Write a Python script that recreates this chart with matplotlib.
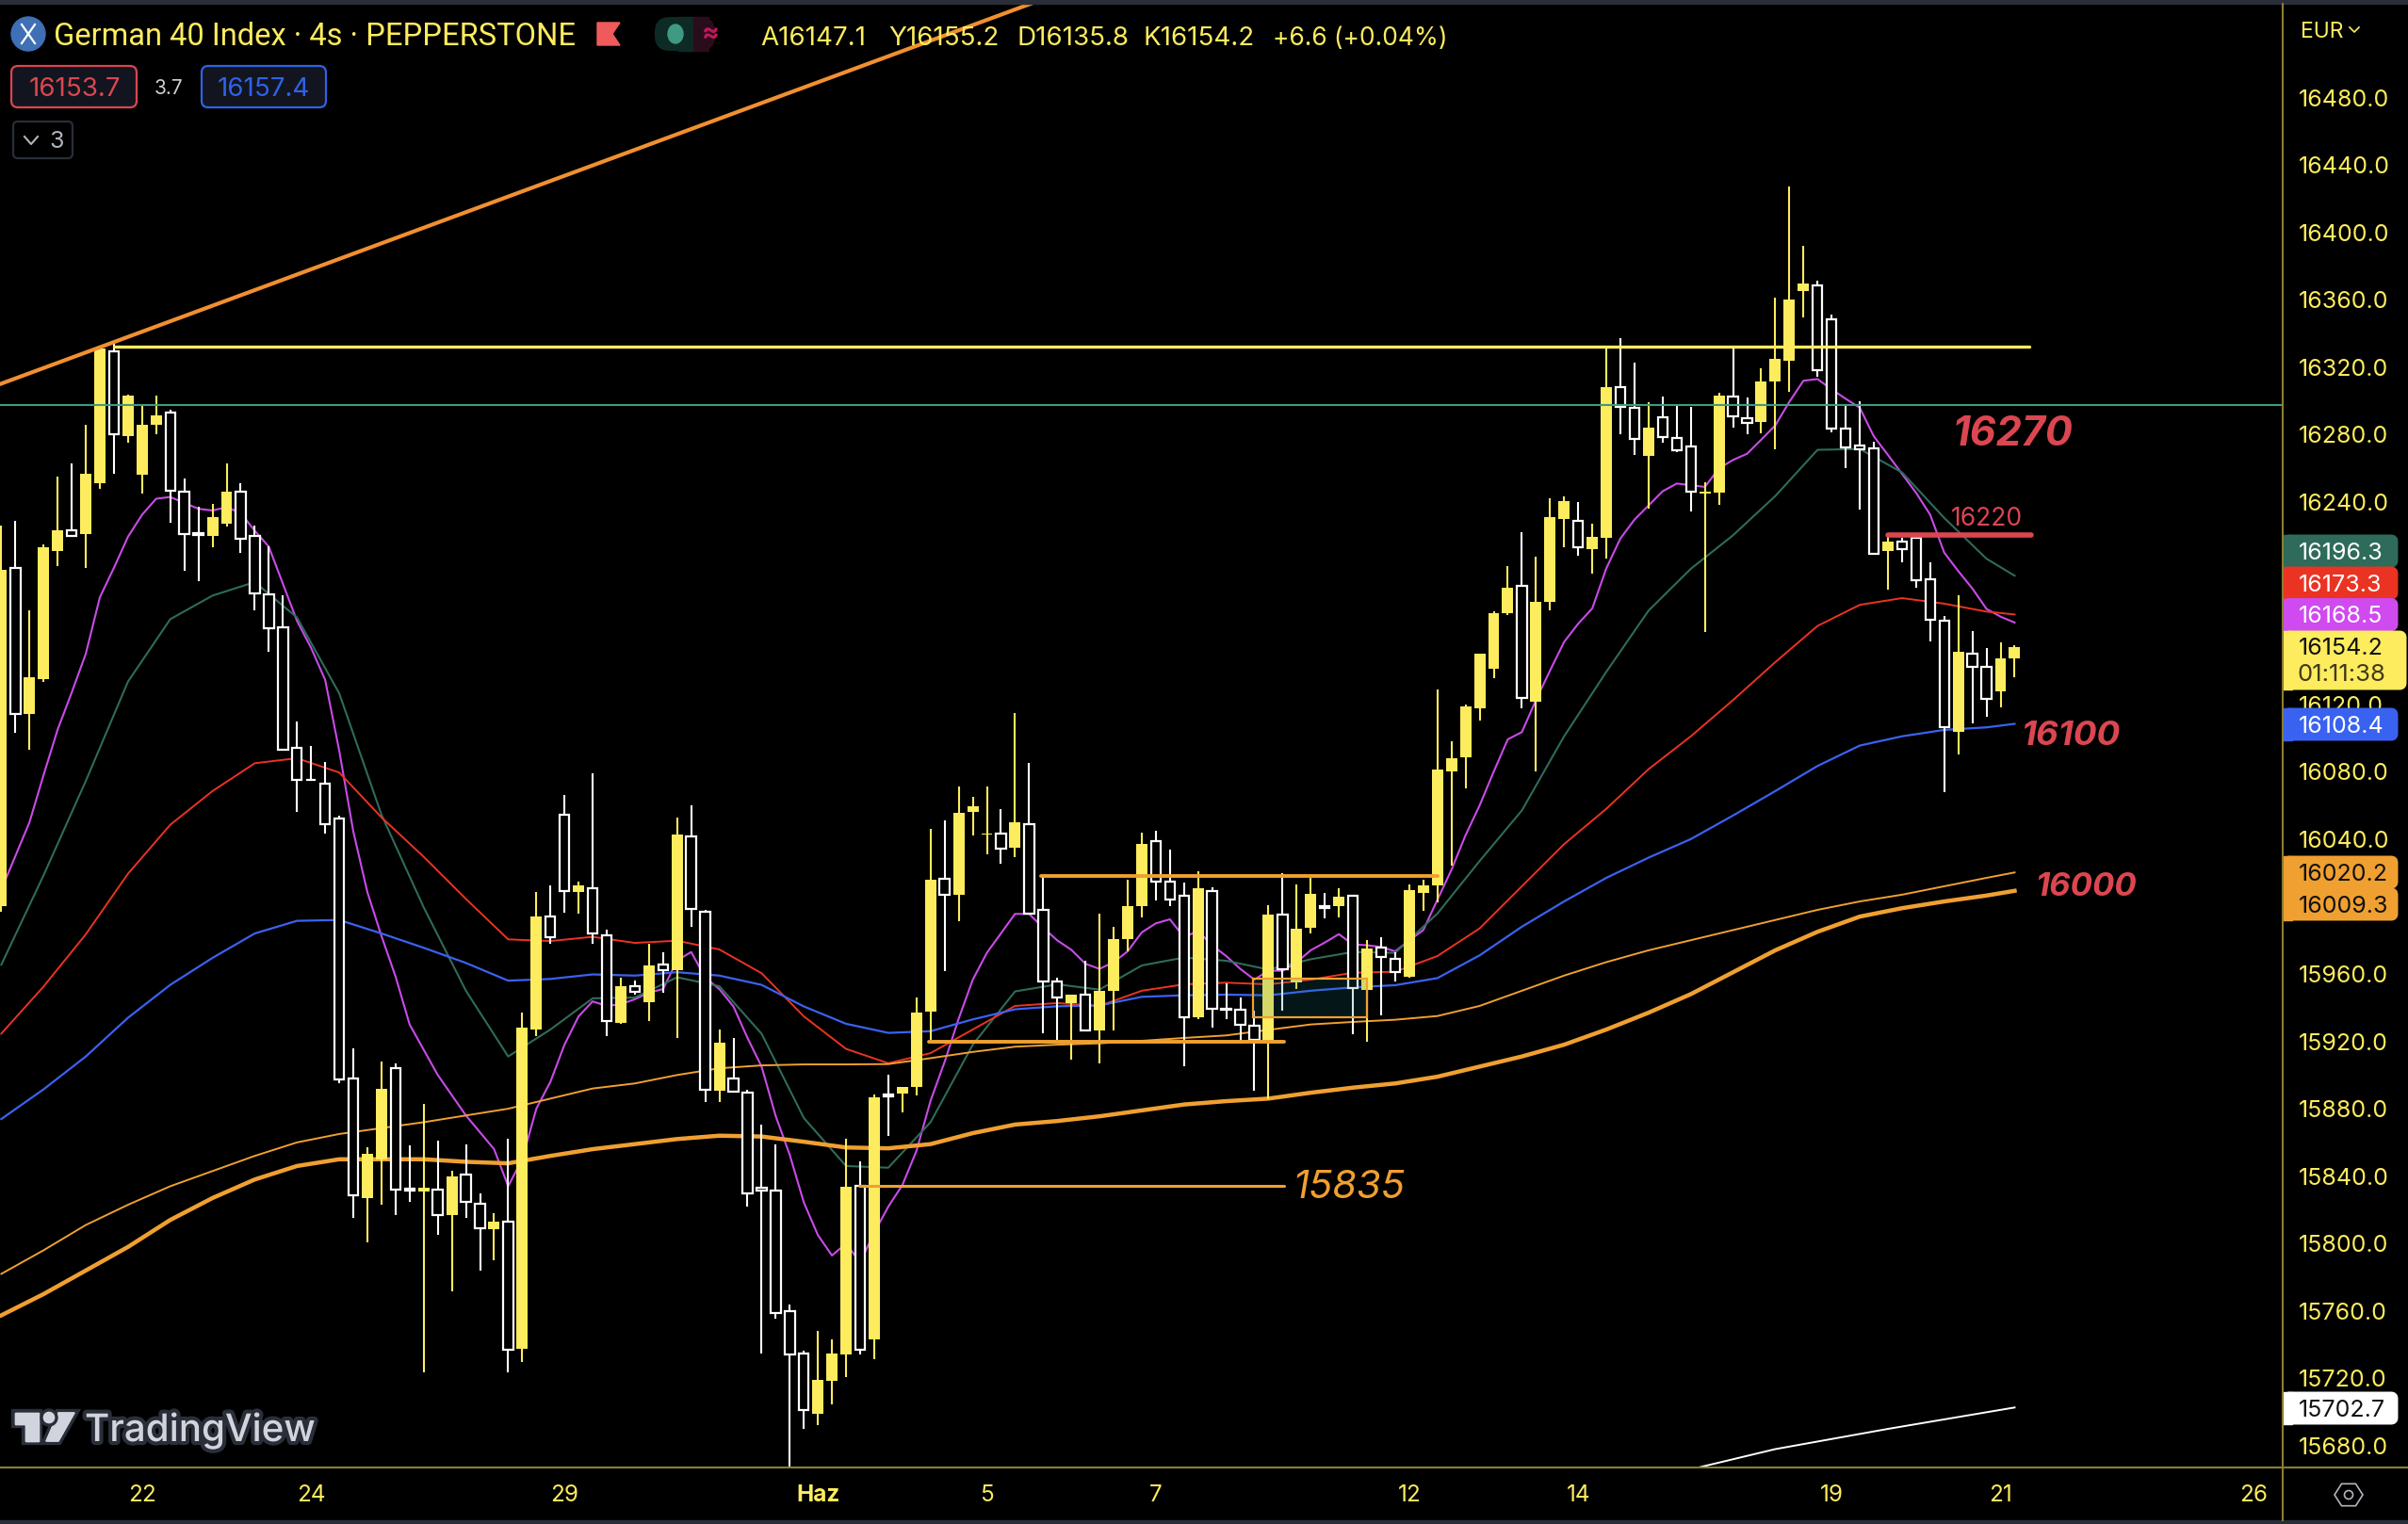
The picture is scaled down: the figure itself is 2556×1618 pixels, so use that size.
import numpy as np
import matplotlib
matplotlib.use("Agg")
import matplotlib.pyplot as plt
import matplotlib.patheffects as pe
from matplotlib.patches import Circle, Ellipse, FancyBboxPatch, Polygon, Rectangle

plt.rcParams["font.family"] = ["Inter", "DejaVu Sans"]

opens = [16000, 16201, 16114, 16135, 16211, 16223.5, 16221, 16251, 16329.6, 16279, 16256, 16286, 16293, 16246, 16221.6, 16220,
         16227, 16246, 16220, 16185, 16165.5, 16094, 16075.4, 16073, 16052, 15898, 15827, 15850, 15904, 15832.7, 15831, 15832,
         15817, 15841, 15823.7, 15808.6, 15813, 15737.5, 15927, 15994, 16054.6, 16008.4, 16011, 15983, 15931, 15953, 15943, 15965.6,
         15962.5, 16041.5, 15997, 15890.4, 15898, 15889.4, 15833, 15831.7, 15760, 15735, 15699, 15718.5, 15734, 15834, 15743.3, 15888.3,
         15889, 15893, 15937.6, 16016.4, 16007, 16056, 16042.6, 16043.3, 16034.9, 16049, 15998, 15955.7, 15942.7, 15947.9, 15926.5, 15950,
         15980.7, 16000, 16039, 16014.8, 16006.6, 15934.3, 16009.4, 15939.5, 15939, 15929.4, 15920, 15995.4, 15955, 15987.4, 16000, 16000,
         16006.5, 15950.7, 15975.6, 15969, 15958.5, 16008.2, 16012.5, 16080, 16088.6, 16117.6, 16141, 16174, 16190.5, 16121.6, 16180.8, 16230,
         16228.7, 16212, 16218.8, 16308.4, 16296, 16267.4, 16290.5, 16278, 16273.2, 16245, 16245.8, 16302.8, 16290, 16287.6, 16311.6, 16323.9,
         16365.3, 16368.8, 16348.7, 16283.7, 16273.8, 16271.6, 16211, 16216.6, 16219, 16194.2, 16169.8, 16103.9, 16150, 16142.3, 16127.4, 16147.1]
highs = [16226, 16229, 16176, 16215, 16255, 16263, 16286, 16333, 16334, 16304, 16297, 16303, 16295, 16254, 16237, 16239,
         16263, 16251, 16226, 16213.5, 16184.5, 16110, 16095, 16086, 16054, 15915.6, 15857, 15908, 15907, 15858, 15883, 15861,
         15843, 15859, 15830, 15818, 15862, 15937, 16008.5, 16012.5, 16066, 16015, 16079, 15986, 15958, 15956, 15978, 15973,
         16053, 16060, 15998, 15927, 15922, 15891, 15870.6, 15858.7, 15763.8, 15736.4, 15748, 15743, 15862, 15849, 15888.6, 15900,
         15893, 15945.8, 16046, 16051, 16071, 16065, 16071, 16058, 16114.6, 16085, 16018, 15958, 15947.7, 15967.8, 15996, 15988,
         16015.9, 16043.8, 16045, 16033.6, 16014, 16021, 16011.6, 15954.4, 15946, 15938, 16000.8, 16020, 16013, 16017, 16007.9, 16010.8,
         16006.5, 15980, 15981.6, 15973, 16013, 16016, 16128.6, 16098, 16120, 16150, 16175, 16202, 16222, 16207.6, 16242.3, 16243.4,
         16240, 16227, 16331.5, 16337, 16322.8, 16299.3, 16302.7, 16297, 16296.5, 16251.8, 16304.9, 16331, 16302, 16319.4, 16361.4, 16427.3,
         16392, 16371.4, 16351.3, 16297.7, 16300, 16275.9, 16220.4, 16218.5, 16221, 16204.5, 16172.4, 16184.5, 16163.5, 16153.4, 16156.8, 16155.2]
lows = [15997, 16103, 16093, 16133, 16202, 16220, 16201, 16248, 16257, 16275, 16245, 16280, 16228, 16199, 16193, 16213,
        16225.5, 16210, 16176, 16151, 16093, 16056, 16075, 16043, 15895.4, 15815, 15800.6, 15823, 15817, 15825, 15723.6, 15805,
        15771.6, 15815, 15784, 15790, 15723.6, 15729.6, 15923, 15978, 15996.5, 15996, 15977.6, 15923, 15930.6, 15947.6, 15932, 15949,
        15921.7, 15988, 15884, 15883.7, 15890, 15822, 15735, 15755.5, 15660, 15690.2, 15692.4, 15704.5, 15721, 15734, 15731.6, 15863.7,
        15877.6, 15888, 15920.7, 15961.5, 15991.5, 16042, 16031, 16025.6, 16029.3, 15995.8, 15925, 15921, 15909, 15926.5, 15906.9, 15926.5,
        15973.4, 15993.5, 16003.6, 16000.4, 15905.4, 15933, 15928.3, 15933, 15918.8, 15890.5, 15885.8, 15938.4, 15951, 15984, 15993, 15993.5,
        15924.4, 15920, 15935.6, 15955.7, 15958, 15997.6, 16002.6, 16024, 16070.3, 16110.4, 16135.5, 16173, 16117.8, 16080.2, 16175.8, 16213.2,
        16208, 16197.6, 16206.5, 16280.3, 16268, 16236, 16275.3, 16269.7, 16234.5, 16163, 16238.4, 16284.2, 16280.3, 16280.9, 16271.2, 16305.5,
        16349.6, 16314.4, 16281.5, 16260.4, 16235.8, 16209.2, 16188.1, 16204.5, 16189, 16157.5, 16067.6, 16090.5, 16108.4, 16112.3, 16118.4, 16135.8]
closes = [16200, 16114, 16136, 16213, 16223, 16220, 16257, 16331, 16280, 16303, 16286, 16291.5, 16247, 16221, 16220.3, 16231,
          16246, 16218.4, 16186, 16165, 16093, 16075, 16075, 16049, 15897.5, 15828.5, 15853, 15892, 15832, 15831.7, 15833, 15817,
          15840, 15824.5, 15809, 15813, 15737, 15928, 15994, 15982, 16009, 16012.5, 15984, 15932, 15953, 15949.6, 15965, 15962,
          16042.8, 15998.4, 15891, 15919, 15890, 15830, 15831.3, 15759, 15734, 15701, 15719, 15735, 15833.7, 15736.8, 15887, 15887.3,
          15893, 15937.3, 16016, 16007, 16055.6, 16059.7, 16043.3, 16034.3, 16049.8, 15995.8, 15955.3, 15946, 15947.7, 15926.5, 15950, 15980.7,
          16000, 16037, 16014.6, 16004, 15934.3, 16010.8, 15939.3, 15939, 15929.6, 15921, 15995, 15962.6, 15986.8, 16007.3, 15999, 16005.6,
          15951.4, 15975, 15969.9, 15961.3, 16009.7, 16012.5, 16081, 16088, 16118.8, 16150, 16174, 16189, 16124, 16180.8, 16231, 16240.6,
          16213, 16219.4, 16308, 16296.5, 16277.3, 16284.2, 16278.8, 16270.6, 16246, 16246, 16303.2, 16290.7, 16287, 16311.6, 16325, 16360.3,
          16369.8, 16318.2, 16283.5, 16272.7, 16271.4, 16209.2, 16216.6, 16212, 16193.7, 16170.2, 16106.5, 16151, 16142.3, 16123.3, 16147.3, 16154.2]

ma_purple = [16010, 16030, 16050, 16078, 16105, 16127, 16150, 16183.5, 16201, 16219.5,
             16232.5, 16242, 16243, 16239.5, 16236, 16235, 16237, 16233.5, 16223, 16213.5,
             16191.5, 16169.5, 16153.5, 16134.5, 16092.5, 16044.5, 16008.5, 15982.5, 15958.5, 15930,
             15915, 15900, 15888, 15876, 15866, 15856, 15834, 15850, 15880, 15896,
             15918, 15934.8, 15943.7, 15941, 15942, 15945, 15948.9, 15951, 15968, 15973,
             15957.8, 15951, 15940.7, 15922, 15905, 15875.7, 15852.6, 15824.4, 15805, 15792.9,
             15800, 15788.8, 15806.5, 15821.9, 15834.7, 15855, 15884.7, 15907.8, 15933.5, 15956.6,
             15972.5, 15984, 15995.6, 15995.6, 15987.4, 15979.9, 15974.3, 15966, 15963, 15966.9,
             15973.4, 15984.6, 15990, 15992.4, 15981.8, 15985.5, 15977, 15970.6, 15963, 15956.6,
             15962, 15961.8, 15966.9, 15974, 15978.6, 15983.6, 15977.5, 15977, 15976, 15973.4,
             15979.9, 15986, 16004, 16021.8, 16042.3, 16060, 16080, 16099.2, 16103.5, 16122.5,
             16140, 16157, 16167.8, 16176.9, 16200.7, 16218.4, 16229.6, 16238, 16246.4, 16251,
             16250, 16249, 16260, 16265, 16268.7, 16277, 16285.5, 16299.5, 16312, 16313,
             16306.9, 16301.3, 16296, 16279, 16268, 16256.7, 16245.5, 16232.5, 16210, 16199,
             16188.7, 16176.6, 16172, 16168.5]

# slower averages read every third bar
ma_bars = list(range(0, 142, 3)) + [143]
ma_green = [15965.5, 16018.5, 16074.5, 16133.5, 16170.5, 16184.5, 16192.5, 16171.5, 16126.5, 16054.5, 15999.5, 15950,
            15911, 15927, 15945.5, 15946, 15958, 15952.7, 15924.5, 15874.5, 15846, 15845, 15872, 15918,
            15949.6, 15953.8, 15950.7, 15965, 15969.7, 15967.8, 15962.6, 15968.7, 15973, 15972.5, 15995.8, 16027,
            16057, 16101, 16139.3, 16175.6, 16200.4, 16220.3, 16243.6, 16271, 16271.5, 16257.6, 16230.6, 16206.4, 16196.3]
ma_red = [15924.6, 15952.5, 15983.5, 16019.5, 16048.5, 16068.5, 16085, 16088, 16079.5, 16052.9, 16029.5, 16004.5,
          15980.5, 15979.5, 15982, 15978.4, 15979.7, 15974.5, 15960.4, 15934.8, 15915.5, 15907, 15913, 15927,
          15941, 15942.7, 15941, 15950, 15953.8, 15954.8, 15953.8, 15956.6, 15960.7, 15961.3, 15970.6, 15987,
          16012, 16037, 16058, 16081.5, 16101, 16122.5, 16145, 16166.5, 16179, 16183, 16179.7, 16175, 16173.3]
ma_blue = [15873.9, 15891.5, 15911, 15934, 15953.5, 15969.5, 15984, 15991.5, 15992, 15984, 15975.5, 15966.5,
           15956, 15957, 15959.7, 15959, 15961, 15959, 15953.5, 15940.7, 15930.4, 15925, 15926, 15933,
           15939, 15940.8, 15941.3, 15946.4, 15947.3, 15947.7, 15947.3, 15950, 15952, 15953.3, 15957.5, 15971,
           15988, 16003, 16017, 16029, 16040, 16054, 16068.5, 16083.4, 16095.5, 16101, 16104.8, 16106.3, 16108.4]
ma_thin = [15782, 15796, 15811, 15823, 15834, 15843, 15852, 15860, 15865, 15868.5, 15872, 15876,
           15880, 15886, 15892, 15895, 15900, 15904, 15905.7, 15906.3, 15906.3, 15906.5, 15910, 15913.7,
           15916.8, 15918, 15918.8, 15920.3, 15922, 15923.5, 15926.8, 15930, 15931.5, 15932.8, 15935, 15941,
           15950, 15959, 15967, 15974, 15980, 15986, 15992, 15998, 16003, 16007, 16012, 16017, 16020.2]
ma_thick = [15757.4, 15770, 15784, 15798, 15814, 15827, 15838, 15846, 15850, 15850, 15850, 15848.5,
            15847.6, 15852, 15856, 15859, 15862, 15864, 15863.5, 15860.4, 15857, 15856.5, 15859, 15865.5,
            15870.6, 15872.7, 15875.5, 15879, 15882.5, 15884.5, 15886, 15889.5, 15892.5, 15895, 15899, 15905,
            15911, 15918, 15927, 15937, 15948, 15961, 15974, 15985, 15994, 15999, 16003, 16006.5, 16009.3]
ma_white_bars = [119, 126, 134, 143]
ma_white = [15664, 15678, 15690, 15702.7]

# 16000, 16160 and 16200 are covered by the price tags
price_ticks = [p for p in range(15680, 16481, 40) if p not in (16000, 16160, 16200)]
date_bars = [10, 22, 40, 58, 70, 82, 100, 112, 130, 142, 160]
date_labels = ["22", "24", "29", "Haz", "5", "7", "12", "14", "19", "21", "26"]

YELLOW = "#fdec5e"
ORANGE = "#f0a030"
RED = "#dc4650"
PURPLE = "#c94be8"
GREEN = "#2f6b5a"
MA_RED = "#eb3323"
BLUE = "#3a62f0"
AXIS = "#8a7d33"

W, H = 2556, 1618
fig = plt.figure(figsize=(W / 100, H / 100), dpi=100, facecolor="black")
ax = fig.add_axes([0, (H - 1558) / H, 2423 / W, 1554 / H], facecolor="black")
ax.set_xlim(-0.094, 162.04)
ax.set_ylim(15667.1, 16535.7)
for s in ax.spines.values():
    s.set_visible(False)

# moving averages sit under the candles
bars = np.arange(len(opens))
ax.plot(bars, ma_purple, color=PURPLE, lw=1.5, zorder=2)
ax.plot(ma_bars, ma_green, color=GREEN, lw=1.5, zorder=2)
ax.plot(ma_bars, ma_red, color=MA_RED, lw=1.4, zorder=2)
ax.plot(ma_bars, ma_blue, color=BLUE, lw=1.6, zorder=2)
ax.plot(ma_bars, ma_thin, color=ORANGE, lw=1.4, zorder=2)
ax.plot(ma_bars, ma_thick, color=ORANGE, lw=3.2, zorder=2)
ax.plot(ma_white_bars, ma_white, color="white", lw=1.4, zorder=2)

# candles
o = np.array(opens)
c = np.array(closes)
up = c >= o
ax.vlines(bars[up], np.array(lows)[up], np.array(highs)[up], color=YELLOW, lw=1.5, zorder=3)
ax.vlines(bars[~up], np.array(lows)[~up], np.array(highs)[~up], color="white", lw=1.5, zorder=3)
ax.bar(bars[up], (c - o)[up], bottom=o[up], width=0.8, color=YELLOW, zorder=4)
ax.bar(bars[~up], (c - o)[~up], bottom=o[~up], width=0.7, facecolor="black", edgecolor="white", lw=1.6, zorder=4)

# drawings on top of the candles
ax.plot([-1, 73.85], [16307.2, 16538], color="#f09030", lw=3, zorder=5)
ax.axhline(16297.6, color="#3d9a7f", lw=1.5, zorder=5)
ax.plot([8, 144.05], [16332.4, 16332.4], color=YELLOW, lw=2.4, solid_capstyle="round", zorder=5)
ax.plot([134, 144.2], [16220.5, 16220.5], color=RED, lw=4, solid_capstyle="round", zorder=5)
ax.plot([73.85, 102], [16018, 16018], color=ORANGE, lw=2.8, solid_capstyle="round", zorder=5)
ax.plot([65.9, 91.1], [15920, 15920], color=ORANGE, lw=2.8, solid_capstyle="round", zorder=5)
ax.plot([60.9, 91.1], [15834, 15834], color=ORANGE, lw=2.2, solid_capstyle="round", zorder=5)
ax.add_patch(Rectangle((88.9, 15934), 8.1, 23, facecolor="#1f7f8f", alpha=0.18, edgecolor="none", zorder=5))
ax.add_patch(Rectangle((88.9, 15934), 8.1, 23, fill=False, edgecolor=ORANGE, lw=1.6, zorder=5))

ax.yaxis.tick_right()
ax.set_yticks(price_ticks)
ax.set_yticklabels([f"{p:.1f}" for p in price_ticks])
ax.set_xticks(date_bars)
ax.set_xticklabels(date_labels)
ax.tick_params(axis="y", length=0, pad=12, labelsize=18, labelcolor=YELLOW)
ax.tick_params(axis="x", length=0, pad=13, labelsize=17.5, labelcolor=YELLOW)
ax.get_xticklabels()[3].set_fontweight("bold")

# everything else is screen furniture, drawn in pixels
ov = fig.add_axes([0, 0, 1, 1], zorder=5)
ov.set_xlim(0, W)
ov.set_ylim(H, 0)
ov.axis("off")

ov.add_patch(Rectangle((0, 0), W, 4, color="#2a2e39"))
ov.add_patch(Rectangle((0, 1614), W, 4, color="#2a2e39"))
ov.plot([2423, 2423], [4, 1614], color=AXIS, lw=1.5)
ov.plot([0, W], [1558, 1558], color=AXIS, lw=1.5)

# price tags
tags = [("16196.3", 585, GREEN, "white"), ("16173.3", 619, MA_RED, "white"), ("16168.5", 652.5, "#cf4bef", "white"),
        ("16108.4", 769, BLUE, "white"), ("16020.2", 926, ORANGE, "#111111"), ("16009.3", 960, ORANGE, "#111111"),
        ("15702.7", 1495, "white", "#111111")]
for txt, yc, bg, fg in tags:
    ov.add_patch(FancyBboxPatch((2426, yc - 14), 116, 28, boxstyle="round,pad=0,rounding_size=4", fc=bg, ec=bg, lw=5))
    ov.add_patch(Rectangle((2423, yc - 17), 10, 34, color=bg))
    ov.text(2440, yc + 2, txt, color=fg, fontsize=18, va="center", ha="left")
ov.add_patch(FancyBboxPatch((2426, 673), 125, 56, boxstyle="round,pad=0,rounding_size=4", fc=YELLOW, ec=YELLOW, lw=5))
ov.add_patch(Rectangle((2423, 670), 10, 62, color=YELLOW))
ov.text(2440, 688, "16154.2", color="#111111", fontsize=18, va="center", ha="left")
ov.text(2439, 716, "01:11:38", color="#3f3a17", fontsize=18.5, va="center", ha="left")

# level labels
ov.text(2073, 461, "16270", color=RED, fontsize=31, fontweight="bold", fontstyle="italic", va="center", ha="left")
ov.text(2071, 551, "16220", color=RED, fontsize=19, va="center", ha="left")
ov.text(2145, 781, "16100", color=RED, fontsize=26.5, fontweight="bold", fontstyle="italic", va="center", ha="left")
ov.text(2160, 942, "16000", color=RED, fontsize=25, fontweight="bold", fontstyle="italic", va="center", ha="left")
ov.text(1372, 1261, "15835", color=ORANGE, fontsize=30, fontstyle="italic", va="center", ha="left")

# header
ov.add_patch(Circle((30, 36), 18, color="#3f6fb5"))
ov.plot([23, 37], [26, 46], color="white", lw=1.6)
ov.plot([37, 23], [26, 46], color="white", lw=1.6)
ov.text(57, 39, "German 40 Index · 4s · PEPPERSTONE", color=YELLOW, fontsize=23.5, family="Roboto", va="center", ha="left")
ov.add_patch(Polygon([(634, 24), (658, 24), (650, 36), (658, 48), (634, 48)], color="#ef5b5b"))
ov.add_patch(FancyBboxPatch((713, 18), 46, 36, boxstyle="round,pad=0,rounding_size=16", fc="#2a0d1a", ec="none"))
ov.add_patch(FancyBboxPatch((695, 18), 41, 36, boxstyle="round,pad=0,rounding_size=16", fc="#0d2a24", ec="none"))
ov.add_patch(Rectangle((720, 18), 16, 36, color="#0d2a24"))
ov.add_patch(Rectangle((736, 18), 16, 36, color="#2a0d1a"))
ov.add_patch(Ellipse((717, 36), 16, 20, color="#3f9a83"))
ov.text(754, 36, "≈", color="#c2185b", fontsize=20, fontweight="bold", va="center", ha="center")
for txt, tx, fs in [("A16147.1", 807, 20), ("Y16155.2", 943, 20), ("D16135.8", 1079, 20), ("K16154.2", 1214, 20), ("+6.6 (+0.04%)", 1351, 19)]:
    ov.text(tx, 41, txt, color=YELLOW, fontsize=fs, va="center", ha="left")

ov.add_patch(FancyBboxPatch((12, 70), 133, 44, boxstyle="round,pad=0,rounding_size=7", fc="#12151f", ec=RED, lw=1.6))
ov.text(79, 95, "16153.7", color=RED, fontsize=20, va="center", ha="center")
ov.text(179, 94, "3.7", color="#cfcfcf", fontsize=15, va="center", ha="center")
ov.add_patch(FancyBboxPatch((214, 70), 132, 44, boxstyle="round,pad=0,rounding_size=7", fc="#12151f", ec="#2f62e8", lw=1.6))
ov.text(280, 95, "16157.4", color="#2f62e8", fontsize=20, va="center", ha="center")
ov.add_patch(FancyBboxPatch((14, 129), 63, 39, boxstyle="round,pad=0,rounding_size=5", fc="black", ec="#2a2e39", lw=1.6))
ov.plot([26, 33, 40], [145, 153, 145], color="#b2b5be", lw=1.5)
ov.text(60, 150, "3", color="#b2b5be", fontsize=18, va="center", ha="center")

ov.text(2442, 34, "EUR", color=YELLOW, fontsize=16.5, va="center", ha="left")
ov.plot([2494, 2499, 2504], [29, 34, 29], color=YELLOW, lw=1.2)

# watermark
halo = [pe.withStroke(linewidth=6, foreground="#2a2e39")]
logo_t = Polygon([(16, 1500), (41, 1500), (41, 1530), (27, 1530), (27, 1512), (16, 1512)], color="#d1d4dc", zorder=6)
logo_s = Polygon([(62, 1500), (79, 1500), (62, 1530), (49, 1530)], color="#d1d4dc", zorder=6)
logo_d = Circle((52, 1505), 5.5, color="#d1d4dc", zorder=6)
for p in (logo_t, logo_s, logo_d):
    p.set_path_effects(halo + [pe.Normal()])
    ov.add_patch(p)
ov.text(90, 1519, "TradingView", color="#d1d4dc", fontsize=29, fontweight="medium", va="center", ha="left", path_effects=halo)

# settings hexagon
ang = np.deg2rad(np.arange(0, 360, 60))
ov.add_patch(Polygon(np.c_[2493 + 15 * np.cos(ang), 1587 + 13.5 * np.sin(ang)], fill=False, ec="#b2b5be", lw=1.2))
ov.add_patch(Circle((2493, 1587), 4.5, fill=False, ec="#b2b5be", lw=1.2))

fig.savefig("out.png", dpi=100, facecolor="black")
plt.close(fig)
